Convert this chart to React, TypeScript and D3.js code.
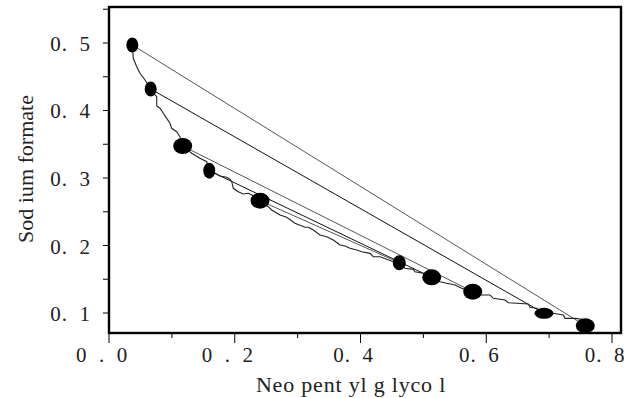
import * as d3 from 'd3';

// axis ticks
const xTicks = [0, 0.2, 0.4, 0.6, 0.8];
const xTickLabels = ['0\u2002.\u20020', '0\u2002.\u20022', '0.\u20024', '0.\u20026', '0.\u20028'];
const xMinor = [0.1, 0.3, 0.5, 0.7];
const yTicks = [0.1, 0.2, 0.3, 0.4, 0.5];
const yTickLabels = ['0.\u20021', '0.\u20022', '0.\u20023', '0.\u20024', '0.\u20025'];
const yMinor = [0.15, 0.25, 0.35, 0.45, 0.55];

// measured compositions (filled markers)
const pointX = [0.0371, 0.0663, 0.1172, 0.1595, 0.2402, 0.4617, 0.5132, 0.5785, 0.6918, 0.7575];
const pointY = [0.4970, 0.4319, 0.3474, 0.3108, 0.2664, 0.1745, 0.1529, 0.1316, 0.0996, 0.0812];

// tie lines join point i to point j
const tieFrom = [0, 1, 2, 3, 4];
const tieTo = [9, 8, 7, 6, 5];

// binodal curve (stepped trace)
const curveX = [
  0.0371, 0.0386, 0.0441, 0.0493, 0.0573, 0.0663, 0.0732, 0.0759, 0.0759, 0.0811,
  0.0864, 0.0918, 0.0970, 0.0997, 0.1077, 0.1129, 0.1172, 0.1315, 0.1447, 0.1554,
  0.1595, 0.1686, 0.1765, 0.1872, 0.1924, 0.1952, 0.1977, 0.2056, 0.2136, 0.2216,
  0.2270, 0.2402, 0.2534, 0.2588, 0.2720, 0.2826, 0.2958, 0.3117, 0.3170, 0.3249,
  0.3356, 0.3462, 0.3567, 0.3674, 0.3754, 0.3833, 0.3940, 0.4019, 0.4151, 0.4204,
  0.4310, 0.4522, 0.4617, 0.4708, 0.4840, 0.4867, 0.4999, 0.5132, 0.5265, 0.5371,
  0.5503, 0.5610, 0.5785, 0.5928, 0.6060, 0.6112, 0.6298, 0.6351, 0.6484, 0.6669,
  0.6696, 0.6802, 0.6918, 0.7066, 0.7226, 0.7253, 0.7412, 0.7518, 0.7575,
];
const curveY = [
  0.4970, 0.4773, 0.4649, 0.4551, 0.4452, 0.4319, 0.4230, 0.4204, 0.4067, 0.4033,
  0.3959, 0.3884, 0.3810, 0.3736, 0.3686, 0.3612, 0.3474, 0.3366, 0.3292, 0.3241,
  0.3108, 0.3070, 0.3030, 0.3010, 0.2981, 0.2945, 0.2847, 0.2797, 0.2763, 0.2773,
  0.2748, 0.2664, 0.2575, 0.2526, 0.2452, 0.2418, 0.2329, 0.2270, 0.2270, 0.2230,
  0.2156, 0.2130, 0.2081, 0.2007, 0.1993, 0.1959, 0.1933, 0.1908, 0.1884, 0.1834,
  0.1834, 0.1760, 0.1745, 0.1662, 0.1647, 0.1612, 0.1588, 0.1529, 0.1464, 0.1440,
  0.1415, 0.1366, 0.1316, 0.1267, 0.1267, 0.1218, 0.1193, 0.1153, 0.1144, 0.1133,
  0.1084, 0.1070, 0.0996, 0.0996, 0.0970, 0.0921, 0.0921, 0.0907, 0.0812,
];

// marker half-sizes in px (style only)
const markerRx = [6, 6, 9.5, 6, 9.5, 6.5, 9.5, 9.5, 9.5, 9.5];
const markerRy = [7.5, 7.5, 8, 8, 8, 7.5, 8, 8, 5.5, 7.5];
const tieColors = ['#555', '#111', '#555', '#111', '#555'];

const W = 635;
const H = 398;
const left = 109, right = 621, top = 7, bottom = 333;
const FONT = '"Liberation Serif", "Times New Roman", serif';

export default function App() {
  const x = d3.scaleLinear().domain([0, 0.8143]).range([left, right]);
  const y = d3.scaleLinear().domain([0.0704, 0.5533]).range([bottom, top]);

  const line = d3.line<number>().x(i => x(curveX[i])).y(i => y(curveY[i]));
  const curvePath = line(d3.range(curveX.length)) ?? '';

  return (
    <svg width={W} height={H} style={{ position: 'fixed', left: 0, top: 0, background: '#fff' }}>
      <rect x={0} y={0} width={W} height={H} fill="#fff" />

      {/* tie lines */}
      {tieFrom.map((a, k) => (
        <line key={`t${k}`}
          x1={x(pointX[a])} y1={y(pointY[a])}
          x2={x(pointX[tieTo[k]])} y2={y(pointY[tieTo[k]])}
          stroke={tieColors[k]} strokeWidth={1} />
      ))}

      {/* binodal curve */}
      <path d={curvePath} fill="none" stroke="#222" strokeWidth={1.1} />

      {/* markers */}
      {pointX.map((px, i) => (
        <ellipse key={`p${i}`} cx={x(px)} cy={y(pointY[i])} rx={markerRx[i]} ry={markerRy[i]} fill="#000" />
      ))}

      {/* frame */}
      <rect x={left} y={top} width={right - left} height={bottom - top}
        fill="none" stroke="#000" strokeWidth={2.4} />

      {/* x ticks */}
      {xTicks.map((t, i) => (
        <g key={`xt${i}`}>
          <line x1={x(t)} x2={x(t)} y1={bottom} y2={bottom + 10} stroke="#000" strokeWidth={1} />
          <text x={x(t) - 7} y={362} textAnchor="middle" fontFamily={FONT} fontSize={21}
            letterSpacing={1} fill="#222">{xTickLabels[i]}</text>
        </g>
      ))}
      {xMinor.map((t, i) => (
        <line key={`xm${i}`} x1={x(t)} x2={x(t)} y1={bottom} y2={bottom + 5} stroke="#000" strokeWidth={1} />
      ))}

      {/* y ticks */}
      {yTicks.map((t, i) => (
        <g key={`yt${i}`}>
          <line x1={left - 6} x2={left} y1={y(t)} y2={y(t)} stroke="#000" strokeWidth={1} />
          <text x={91} y={y(t) + 8} textAnchor="end" fontFamily={FONT} fontSize={21}
            letterSpacing={1} fill="#222">{yTickLabels[i]}</text>
        </g>
      ))}
      {yMinor.map((t, i) => (
        <line key={`ym${i}`} x1={left - 6} x2={left} y1={y(t)} y2={y(t)} stroke="#000" strokeWidth={1} />
      ))}

      {/* axis titles */}
      <text x={351} y={392} textAnchor="middle" fontFamily={FONT} fontSize={22}
        letterSpacing={0.8} fill="#222">Neo pent yl g lyco l</text>
      <text transform={`translate(33,169) rotate(-90)`} textAnchor="middle" fontFamily={FONT}
        fontSize={22} fill="#222">Sod ium formate</text>
    </svg>
  );
}
